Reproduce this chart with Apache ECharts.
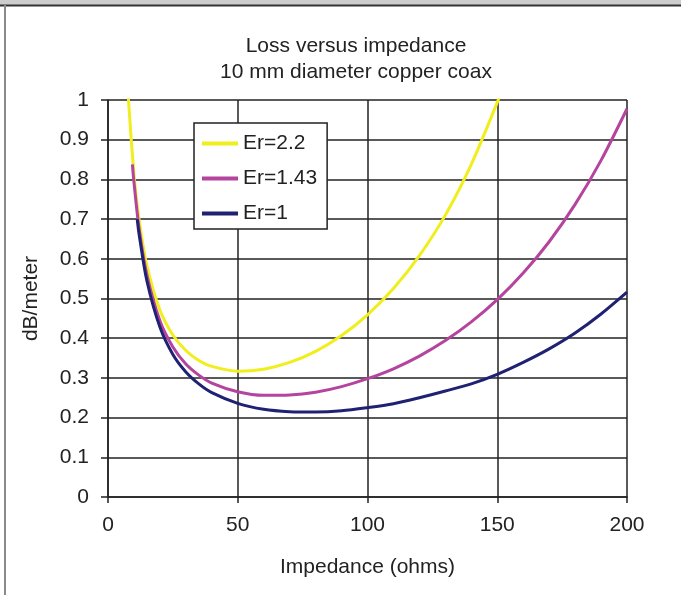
<!DOCTYPE html>
<html>
<head>
<meta charset="utf-8">
<script src="https://cdn.jsdelivr.net/npm/echarts@6/dist/echarts.min.js"></script>
<style>
  html, body { margin: 0; padding: 0; background: #fff; }
  #chart { width: 681px; height: 595px; }
</style>
</head>
<body>
<div id="chart"></div>
<script>
// impedance (ohms) and loss (dB/meter)
var zEr22 = [7.6, 8, 10, 12, 15, 20, 25, 30, 35, 40, 50, 60, 70, 80, 90, 100, 110, 120, 130, 140, 150, 155];
var lossEr22 = [1.04, 0.99, 0.814, 0.698, 0.583, 0.471, 0.408, 0.369, 0.344, 0.329, 0.317, 0.322, 0.339, 0.367, 0.407, 0.459, 0.525, 0.608, 0.71, 0.838, 0.994, 1.08];

var zEr143 = [9.4, 10, 12, 15, 20, 25, 30, 35, 40, 50, 60, 70, 80, 90, 100, 110, 120, 130, 140, 150, 160, 170, 180, 190, 200];
var lossEr143 = [0.838, 0.793, 0.675, 0.559, 0.444, 0.378, 0.335, 0.307, 0.287, 0.265, 0.256, 0.257, 0.264, 0.278, 0.298, 0.323, 0.355, 0.394, 0.441, 0.497, 0.564, 0.643, 0.737, 0.848, 0.978];

var zEr1 = [11.25, 12, 15, 20, 25, 30, 35, 40, 50, 60, 70, 80, 90, 100, 110, 120, 130, 140, 150, 160, 170, 180, 190, 200];
var lossEr1 = [0.7, 0.661, 0.544, 0.428, 0.359, 0.315, 0.285, 0.263, 0.236, 0.221, 0.215, 0.214, 0.217, 0.225, 0.235, 0.25, 0.267, 0.285, 0.309, 0.339, 0.373, 0.413, 0.461, 0.516];

var seriesNames = ['Er=2.2', 'Er=1.43', 'Er=1'];
var seriesColors = ['#f0ee1c', '#b4449e', '#1f2272'];

var pairs = function(xs, ys) {
  var out = [];
  for (var i = 0; i < xs.length; i++) {
    out.push([xs[i], ys[i]]);
  }
  return out;
};

var font = 'Arial, "Liberation Sans", sans-serif';
var chart = echarts.init(document.getElementById('chart'));

var option = {
  backgroundColor: '#fff',
  animation: false,
  title: {
    text: 'Loss versus impedance\n10 mm diameter copper coax',
    left: 351,
    textAlign: 'center',
    top: 28,
    textStyle: { fontFamily: font, fontSize: 21, fontWeight: 'normal', color: '#222', lineHeight: 26 }
  },
  legend: {
    data: seriesNames,
    orient: 'vertical',
    left: 194,
    top: 123,
    icon: 'rect',
    itemWidth: 36,
    itemHeight: 4,
    itemGap: 14,
    padding: [10, 10, 5, 8],
    borderColor: '#222',
    borderWidth: 1.5,
    backgroundColor: '#fff',
    textStyle: { fontFamily: font, fontSize: 21, color: '#222', lineHeight: 20 }
  },
  grid: { left: 108, right: 54, top: 100, bottom: 98 },
  xAxis: {
    type: 'value',
    min: 0,
    max: 200,
    interval: 50,
    name: 'Impedance (ohms)',
    nameLocation: 'middle',
    nameGap: 60,
    nameTextStyle: { fontFamily: font, fontSize: 21, color: '#222' },
    axisLine: { lineStyle: { color: '#222', width: 1.5 } },
    axisTick: { show: true, length: 6, lineStyle: { color: '#222', width: 1.5 } },
    axisLabel: { fontFamily: font, fontSize: 21, color: '#222', margin: 18 },
    splitLine: { show: true, lineStyle: { color: '#222', width: 1.5 } }
  },
  yAxis: {
    type: 'value',
    min: 0,
    max: 1,
    interval: 0.1,
    name: 'dB/meter',
    nameLocation: 'middle',
    nameGap: 66,
    nameTextStyle: { fontFamily: font, fontSize: 21, color: '#222' },
    axisLine: { show: true, lineStyle: { color: '#222', width: 1.5 } },
    axisTick: { show: true, length: 7, lineStyle: { color: '#222', width: 1.5 } },
    axisLabel: { fontFamily: font, fontSize: 21, color: '#222', margin: 19 },
    splitLine: { show: true, lineStyle: { color: '#222', width: 1.5 } }
  },
  graphic: [
    { type: 'rect', shape: { x: 0, y: 0, width: 681, height: 5 }, style: { fill: '#cdcdcd' } },
    { type: 'line', shape: { x1: 0, y1: 5.5, x2: 681, y2: 5.5 }, style: { stroke: '#333', lineWidth: 2 } },
    { type: 'line', shape: { x1: 5, y1: 5, x2: 5, y2: 595 }, style: { stroke: '#8a8a8a', lineWidth: 2 } }
  ],
  series: [
    { name: seriesNames[0], type: 'line', data: pairs(zEr22, lossEr22) },
    { name: seriesNames[1], type: 'line', data: pairs(zEr143, lossEr143) },
    { name: seriesNames[2], type: 'line', data: pairs(zEr1, lossEr1) }
  ].map(function(s, i) {
    s.smooth = 0.3;
    s.showSymbol = false;
    s.symbol = 'none';
    s.clip = true;
    s.color = seriesColors[i];
    s.lineStyle = { color: seriesColors[i], width: 3 };
    return s;
  })
};

chart.setOption(option);
</script>
</body>
</html>
